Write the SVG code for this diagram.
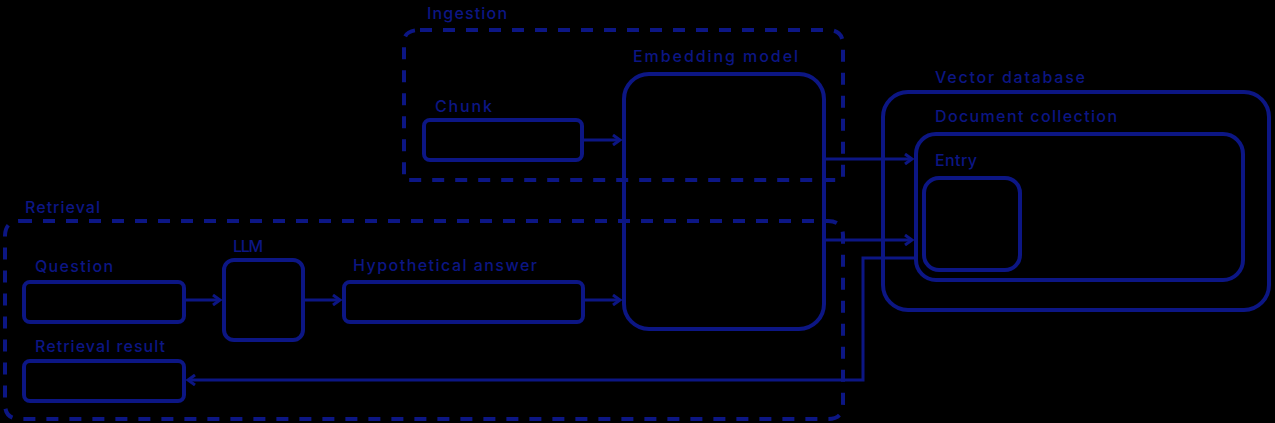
<svg xmlns="http://www.w3.org/2000/svg" width="1275" height="423" viewBox="0 0 1275 423">
<style>
.box{fill:none;stroke:#0c1684;stroke-width:4}
.grp{fill:none;stroke:#0c1684;stroke-width:4;stroke-dasharray:12 11}
.lbl{font-family:Inter,"Liberation Sans",sans-serif;font-size:16px;font-weight:500;fill:#0c1684}
.con{fill:none;stroke:#0c1684;stroke-width:3}
</style>
<defs>
<marker id="arr" markerWidth="12" markerHeight="12" refX="9" refY="6" orient="auto" markerUnits="userSpaceOnUse">
<path d="M2,1 L9,6 L2,11" fill="none" stroke="#0c1684" stroke-width="3"/>
</marker>
</defs>
<rect width="1275" height="423" fill="#000"/>
<g id="ingestion">
<path class="grp" d="M420,30 H828 Q843,30 843,45 V180 H404 V42 Q404,30 420,30 Z"/>
<text class="lbl" x="427" y="19" textLength="80">Ingestion</text>
</g>
<g id="retrieval">
<path class="grp" d="M20,221 H828 Q843,221 843,236 V404 Q843,419 828,419 H20 Q5,419 5,404 V236 Q5,221 20,221 Z"/>
<text class="lbl" x="25" y="213" textLength="75">Retrieval</text>
</g>
<g id="chunk">
<rect class="box" x="424" y="120" width="158" height="40" rx="6"/>
<text class="lbl" x="435" y="112" textLength="57">Chunk</text>
</g>
<g id="embedding">
<rect class="box" x="624" y="74" width="200" height="255" rx="25"/>
<text class="lbl" x="633" y="62" textLength="165">Embedding model</text>
</g>
<g id="question">
<rect class="box" x="24" y="282" width="160" height="40" rx="6"/>
<text class="lbl" x="35" y="272" textLength="78">Question</text>
</g>
<g id="llm">
<rect class="box" x="224" y="260" width="79" height="80" rx="10"/>
<text class="lbl" x="233" y="252" textLength="30">LLM</text>
</g>
<g id="hypothetical">
<rect class="box" x="344" y="282" width="239" height="40" rx="6"/>
<text class="lbl" x="353" y="271" textLength="184">Hypothetical answer</text>
</g>
<g id="result">
<rect class="box" x="24" y="361" width="160" height="40" rx="6"/>
<text class="lbl" x="35" y="352" textLength="130">Retrieval result</text>
</g>
<g id="vectordb">
<rect class="box" x="883" y="92" width="386" height="218" rx="25"/>
<text class="lbl" x="935" y="83" textLength="150">Vector database</text>
</g>
<g id="collection">
<rect class="box" x="916" y="134" width="327" height="146" rx="20"/>
<text class="lbl" x="935" y="122" textLength="182">Document collection</text>
</g>
<g id="entry">
<rect class="box" x="924" y="178" width="96" height="92" rx="15"/>
<text class="lbl" x="935" y="166" textLength="42">Entry</text>
</g>
<g id="connectors">
<path class="con" d="M584,140 H620" marker-end="url(#arr)"/>
<path class="con" d="M186,300 H220" marker-end="url(#arr)"/>
<path class="con" d="M305,300 H340" marker-end="url(#arr)"/>
<path class="con" d="M585,300 H620" marker-end="url(#arr)"/>
<path class="con" d="M826,159 H912" marker-end="url(#arr)"/>
<path class="con" d="M826,240 H912" marker-end="url(#arr)"/>
<path class="con" d="M914,258 H863 V380 H188" marker-end="url(#arr)"/>
</g>
</svg>
